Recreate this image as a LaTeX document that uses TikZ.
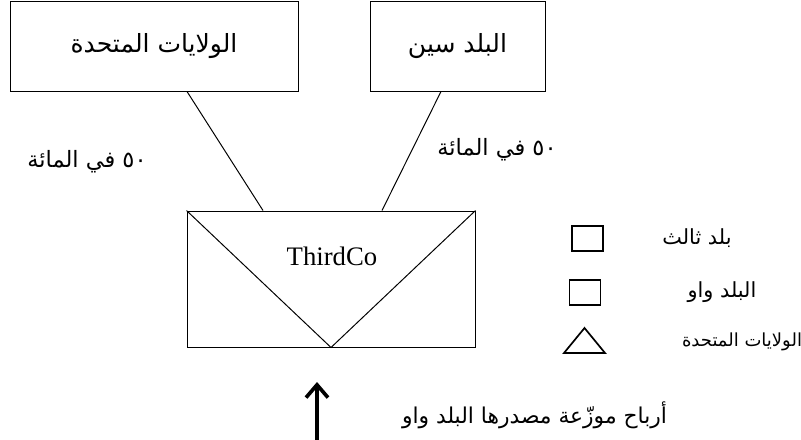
\documentclass[tikz,border=0pt]{standalone}
\usepackage{fontspec}
\usepackage{tikz}
\usetikzlibrary{arrows.meta}
\setmainfont{Liberation Serif}
\newfontfamily\arabicfont[Script=Arabic]{DejaVu Sans}
\TeXXeTstate=1
\newcommand{\artext}[1]{{\arabicfont\beginR #1\endR}}

\begin{document}
\begin{tikzpicture}[line width=0.7pt]
      \tikzstyle{arrow} = [line width=2.6pt, ->, >={Straight Barb[length=3.2mm, width=5.5mm]}]
      \tikzstyle{link} = [line width=0.7pt]
      \tikzstyle{country} = [rectangle, draw=black, minimum height=2.25cm, inner sep=0pt, font=\fontsize{17.8}{20}\selectfont]
      \tikzstyle{share} = [font=\fontsize{16}{19}\selectfont, inner sep=0pt]
      \tikzstyle{legendbox} = [rectangle, draw=black, line width=1.2pt, minimum width=0.775cm, minimum height=0.625cm, inner sep=0pt]
      \tikzstyle{legendtext} = [font=\fontsize{14.8}{17}\selectfont, inner sep=0pt]

      \useasboundingbox (0cm, 0cm) rectangle (20.025cm, -11cm);

      % owners
      \node (us) [country, minimum width=7.2cm] at (3.85cm, -1.15cm) {\artext{الولايات المتحدة}};
      \node (sin) [country, minimum width=4.375cm] at (11.4375cm, -1.15cm) {\artext{البلد سين}};

      % the joint company
      \node (thirdco) [rectangle, draw=black, minimum width=7.2cm, minimum height=3.4cm, inner sep=0pt] at (8.275cm, -6.975cm) {};
      \node (thirdco-name) [font=\fontsize{19}{22}\selectfont, inner sep=0pt] at (8.3cm, -6.4cm) {ThirdCo};
      \draw [link] (thirdco.north west) -- (thirdco.south) -- (thirdco.north east);

      \draw [link] ([xshift=0.825cm]us.south) -- ([xshift=-1.7cm]thirdco.north);
      \draw [link] ([xshift=-0.4125cm]sin.south) -- ([xshift=1.275cm]thirdco.north);

      \node (share-us) [share] at (2.175cm, -4.05cm) {\artext{٥٠ في المائة}};
      \node (share-sin) [share] at (12.425cm, -3.75cm) {\artext{٥٠ في المائة}};

      % dividends
      \coordinate (div-foot) at (7.925cm, -11cm);
      \coordinate (div-head) at (7.925cm, -9.55cm);
      \draw [arrow] (div-foot) -- (div-head);
      \node (div-text) [share, font=\fontsize{15.5}{18}\selectfont] at (13.3625cm, -10.375cm) {\artext{أرباح موزّعة مصدرها البلد واو}};

      % legend
      \node (key-third) [legendbox] at (14.6875cm, -5.9625cm) {};
      \node (key-waw) [legendbox] at (14.625cm, -7.3125cm) {};
      \draw [line width=1.2pt] (14.1cm, -8.825cm) -- (14.6125cm, -8.2cm) -- (15.125cm, -8.825cm) -- cycle;
      \node (key-third-text) [legendtext] at (17.425cm, -5.95cm) {\artext{بلد ثالث}};
      \node (key-waw-text) [legendtext] at (18.05cm, -7.3cm) {\artext{البلد واو}};
      \node (key-us-text) [legendtext, font=\fontsize{12.8}{15}\selectfont] at (18.55cm, -8.55cm) {\artext{الولايات المتحدة}};
\end{tikzpicture}
\end{document}
